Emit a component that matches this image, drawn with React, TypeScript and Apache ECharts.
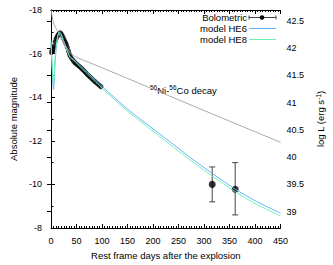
import React, { useEffect, useRef } from "react";
import * as echarts from "echarts";

// ---- data ----
const bolDays = [1, 2, 3, 4, 5, 6, 8, 10, 12, 14, 16, 18, 20, 22, 24, 26, 28, 30, 32, 34, 36, 38, 41, 44, 47, 50, 53, 56, 59, 62, 65, 68, 71, 74, 77, 80, 83, 86, 89, 92, 95, 98];
const bolMag = [-16.05, -16.15, -16.2, -16.12, -16.25, -16.35, -16.55, -16.68, -16.78, -16.86, -16.92, -16.95, -16.9, -16.82, -16.72, -16.62, -16.52, -16.42, -16.28, -16.12, -15.98, -15.88, -15.76, -15.66, -15.58, -15.52, -15.46, -15.4, -15.34, -15.27, -15.2, -15.12, -15.05, -14.98, -14.92, -14.85, -14.78, -14.72, -14.66, -14.6, -14.54, -14.48];

const lateDays = [316, 361];
const lateMag = [-10.0, -9.78];
const lateErrBright = [-10.8, -11.0];
const lateErrFaint = [-9.2, -8.6];

const modelDays = [0, 2, 5, 8, 11, 14, 17, 20, 24, 28, 32, 37, 45, 50, 60, 75, 100, 150, 200, 250, 275, 316, 360, 400, 450];
const he6Mag = [-16.5, -15.4, -14.35, -15.6, -16.4, -16.85, -17.0, -16.9, -16.65, -16.38, -16.12, -15.87, -15.7, -15.6, -15.38, -15.05, -14.5, -13.45, -12.55, -11.65, -11.2, -10.5, -9.8, -9.25, -8.68];
const he8Mag = [-16.6, -15.6, -14.5, -15.8, -16.5, -16.9, -16.95, -16.85, -16.6, -16.35, -16.1, -15.85, -15.68, -15.57, -15.33, -14.98, -14.42, -13.36, -12.44, -11.53, -11.08, -10.38, -9.68, -9.12, -8.55];

const decayDays = [0, 5, 10, 15, 20, 25, 30, 37, 42, 50, 70, 100, 150, 200, 300, 450];
const decayMag = [-18.0, -17.4, -17.15, -16.95, -16.72, -16.5, -16.3, -16.05, -15.94, -15.83, -15.64, -15.35, -14.86, -14.37, -13.39, -11.93];

const xTicksMax = 450;
const magMin = -18;
const magMax = -8;
const logLMin = 38.7;
const logLMax = 42.7;
const logLTicks = [39, 39.5, 40, 40.5, 41, 41.5, 42, 42.5];

const FONT = "'Liberation Sans', Arial, Helvetica, sans-serif";
const C_HE6 = "#66b0ff";
const C_HE8 = "#6ef0b4";
const C_DECAY = "#a8a8a8";
const C_ERR = "#444444";

export default function App() {
  const ref = useRef<HTMLDivElement>(null);

  useEffect(() => {
    document.body.style.margin = "0";
    if (!ref.current) return;
    const chart = echarts.init(ref.current, undefined, { renderer: "svg" });

    const axisCommon = {
      axisLine: { show: true, lineStyle: { color: "#000", width: 1 } },
      splitLine: { show: false },
    };

    const option: any = {
      animation: false,
      backgroundColor: "#fff",
      textStyle: { fontFamily: FONT },
      grid: { left: 42, right: 47, top: 10, bottom: 28, containLabel: false },
      xAxis: [
        {
          ...axisCommon,
          type: "value",
          min: 0,
          max: xTicksMax,
          interval: 50,
          position: "bottom",
          axisTick: { show: true, inside: true, length: 4, lineStyle: { color: "#000" } },
          minorTick: { show: true, splitNumber: 10, length: 2, lineStyle: { color: "#000" } },
          axisLabel: { color: "#000", fontSize: 9, fontFamily: FONT, margin: 8 },
          name: "Rest frame days after the explosion",
          nameLocation: "middle",
          nameGap: 22,
          nameTextStyle: { color: "#000", fontSize: 9.5, fontFamily: FONT },
        },
        {
          ...axisCommon,
          type: "value",
          min: 0,
          max: xTicksMax,
          interval: 50,
          position: "top",
          axisTick: { show: true, inside: true, length: 4, lineStyle: { color: "#000" } },
          minorTick: { show: true, splitNumber: 10, length: 2, lineStyle: { color: "#000" } },
          axisLabel: { show: false },
        },
      ],
      yAxis: [
        {
          ...axisCommon,
          type: "value",
          min: magMin,
          max: magMax,
          interval: 2,
          inverse: true,
          position: "left",
          axisTick: { show: true, inside: true, length: 4, lineStyle: { color: "#000" } },
          minorTick: { show: true, splitNumber: 2, length: 2.5, lineStyle: { color: "#000" } },
          axisLabel: { color: "#000", fontSize: 9, fontFamily: FONT, margin: 9 },
          name: "Absolute magnitude",
          nameLocation: "middle",
          nameGap: 33,
          nameTextStyle: { color: "#000", fontSize: 9.5, fontFamily: FONT },
        },
        {
          ...axisCommon,
          type: "value",
          min: logLMin,
          max: logLMax,
          position: "right",
          axisTick: { show: true, inside: true, length: 4, customValues: logLTicks, lineStyle: { color: "#000" } },
          axisLabel: {
            color: "#000",
            fontSize: 9,
            fontFamily: FONT,
            margin: 6,
            customValues: logLTicks,
            formatter: (v: number) => String(v),
          },
          name: "{a|log L (erg s}{b|-1}{a|)}",
          nameLocation: "middle",
          nameGap: 27,
          nameRotate: 90,
          nameTextStyle: {
            color: "#000",
            fontSize: 9.5,
            fontFamily: FONT,
            rich: {
              a: { fontSize: 9.5, fontFamily: FONT, color: "#000" },
              b: { fontSize: 6.5, fontFamily: FONT, color: "#000", verticalAlign: "top" },
            },
          },
        },
      ],
      series: [
        {
          name: "errbars",
          type: "custom",
          xAxisIndex: 0,
          yAxisIndex: 0,
          data: lateDays.map((d, i) => [d, lateErrBright[i], lateErrFaint[i]]),
          encode: { x: 0, y: [1, 2] },
          renderItem: (params: any, api: any) => {
            const x = api.value(0);
            const p1 = api.coord([x, api.value(1)]);
            const p2 = api.coord([x, api.value(2)]);
            const cap = 3;
            const st = { stroke: C_ERR, lineWidth: 1 };
            return {
              type: "group",
              children: [
                { type: "line", shape: { x1: p1[0], y1: p1[1], x2: p2[0], y2: p2[1] }, style: st },
                { type: "line", shape: { x1: p1[0] - cap, y1: p1[1], x2: p1[0] + cap, y2: p1[1] }, style: st },
                { type: "line", shape: { x1: p2[0] - cap, y1: p2[1], x2: p2[0] + cap, y2: p2[1] }, style: st },
              ],
            };
          },
        },
        {
          name: "Bolometric",
          type: "scatter",
          data: bolDays.map((d, i) => [d, bolMag[i]]),
          symbol: "circle",
          symbolSize: 5,
          itemStyle: { color: "#000" },
        },
        {
          name: "BolometricLate",
          type: "scatter",
          data: lateDays.map((d, i) => [d, lateMag[i]]),
          symbol: "circle",
          symbolSize: 7,
          itemStyle: { color: "#000" },
        },
        {
          name: "model HE6",
          type: "line",
          data: modelDays.map((d, i) => [d, he6Mag[i]]),
          showSymbol: false,
          symbol: "none",
          smooth: 0.2,
          lineStyle: { color: C_HE6, width: 1 },
        },
        {
          name: "model HE8",
          type: "line",
          data: modelDays.map((d, i) => [d, he8Mag[i]]),
          showSymbol: false,
          symbol: "none",
          smooth: 0.2,
          lineStyle: { color: C_HE8, width: 1 },
        },
        {
          name: "decay",
          type: "line",
          data: decayDays.map((d, i) => [d, decayMag[i]]),
          showSymbol: false,
          symbol: "none",
          smooth: 0.2,
          lineStyle: { color: C_DECAY, width: 1 },
        },
      ],
      graphic: [
        {
          type: "text",
          x: 247,
          y: 17.5,
          style: { text: "Bolometric", align: "right", verticalAlign: "middle", fontSize: 9.5, fontFamily: FONT, fill: "#000" },
        },
        {
          type: "text",
          x: 247,
          y: 28.5,
          style: { text: "model HE6", align: "right", verticalAlign: "middle", fontSize: 9.5, fontFamily: FONT, fill: "#000" },
        },
        {
          type: "text",
          x: 247,
          y: 39.5,
          style: { text: "model HE8", align: "right", verticalAlign: "middle", fontSize: 9.5, fontFamily: FONT, fill: "#000" },
        },
        { type: "line", shape: { x1: 249, y1: 17.5, x2: 276, y2: 17.5 }, style: { stroke: C_ERR, lineWidth: 1 } },
        { type: "line", shape: { x1: 249, y1: 15.5, x2: 249, y2: 19.5 }, style: { stroke: C_ERR, lineWidth: 1 } },
        { type: "line", shape: { x1: 276, y1: 15.5, x2: 276, y2: 19.5 }, style: { stroke: C_ERR, lineWidth: 1 } },
        { type: "circle", shape: { cx: 262, cy: 17.5, r: 2.3 }, style: { fill: "#000" } },
        { type: "line", shape: { x1: 249, y1: 28.5, x2: 276, y2: 28.5 }, style: { stroke: C_HE6, lineWidth: 1 } },
        { type: "line", shape: { x1: 249, y1: 39.5, x2: 276, y2: 39.5 }, style: { stroke: C_HE8, lineWidth: 1 } },
        {
          type: "text",
          x: 150,
          y: 90,
          style: {
            text: "{s|56}{n|Ni-}{s|56}{n|Co decay}",
            verticalAlign: "middle",
            fill: "#000",
            rich: {
              s: { fontSize: 6.5, fontFamily: FONT, fill: "#000", verticalAlign: "top", lineHeight: 12 },
              n: { fontSize: 9.5, fontFamily: FONT, fill: "#000", lineHeight: 12 },
            },
          },
        },
      ],
    };

    chart.setOption(option);
    return () => chart.dispose();
  }, []);

  return <div ref={ref} style={{ width: 333, height: 265 }} />;
}
